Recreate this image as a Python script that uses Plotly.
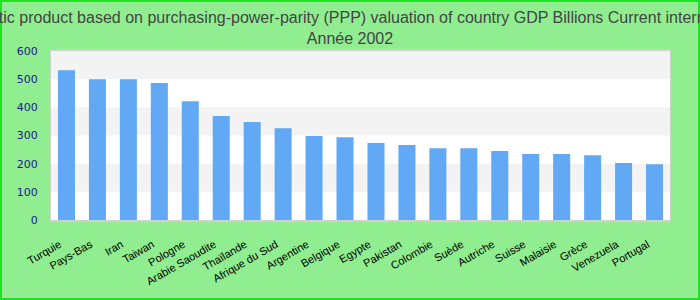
import plotly.graph_objects as go

countries = ["Turquie", "Pays-Bas", "Iran", "Taiwan", "Pologne", "Arabie Saoudite",
             "Thaïlande", "Afrique du Sud", "Argentine", "Belgique", "Egypte", "Pakistan",
             "Colombie", "Suède", "Autriche", "Suisse", "Malaisie", "Grèce", "Venezuela", "Portugal"]
gdp_ppp = [532, 500, 500, 486, 422, 369, 348, 326, 298, 294, 273, 266,
           255, 255, 245, 234, 234, 230, 202, 198]
y_ticks = [0, 100, 200, 300, 400, 500, 600]

title_line1 = ("Gross domestic product based on purchasing-power-parity (PPP) valuation "
               "of country GDP Billions Current international dollar")
title_line2 = "Année 2002"

W, H = 700, 300
ML, MR, MT, MB = 51, 30, 51, 80
pw = W - ML - MR
ph = H - MT - MB

fig = go.Figure()
fig.add_trace(go.Bar(x=countries, y=gdp_ppp, marker=dict(color="#62a9f5", line=dict(width=0)),
                     width=0.55))

shapes = []
for lo in [100, 300, 500]:
    shapes.append(dict(type="rect", xref="paper", yref="y", x0=0, x1=1, y0=lo, y1=lo + 100,
                       fillcolor="#f3f3f3", line=dict(width=0), layer="below"))
shapes.append(dict(type="rect", xref="paper", yref="paper",
                   x0=-(ML - 1) / pw, x1=1 + (MR - 1) / pw,
                   y0=-(MB - 1) / ph, y1=1 + (MT - 1) / ph,
                   line=dict(color="#22e022", width=2), fillcolor="rgba(0,0,0,0)"))

fig.update_layout(
    width=W, height=H,
    margin=dict(l=ML, r=MR, t=MT, b=MB, pad=0),
    paper_bgcolor="#90ee90",
    plot_bgcolor="#ffffff",
    showlegend=False,
    title=dict(text=title_line1 + "<br>" + title_line2, x=0.5, xanchor="center",
               y=1 - 23 / H, yanchor="middle", yref="container",
               font=dict(family="Liberation Sans, Arial", size=16, color="#444444")),
    shapes=shapes,
    xaxis=dict(tickangle=-30, tickfont=dict(family="Liberation Sans, Arial", size=11, color="#000000"),
               showgrid=False, showline=True, linecolor="#d0d0d0", linewidth=2, mirror=True,
               ticks="", ticklabelstandoff=12, ticklabelshift=-7, zeroline=False),
    yaxis=dict(range=[0, 600], tickvals=y_ticks, showgrid=False, zeroline=False,
               tickfont=dict(family="DejaVu Sans, Verdana", size=11, color="#1a1a8c"),
               showline=True, linecolor="#d0d0d0", linewidth=1, mirror=True,
               ticks="outside", ticklen=10, tickcolor="rgba(0,0,0,0)"),
)

fig.write_html("out.html")
